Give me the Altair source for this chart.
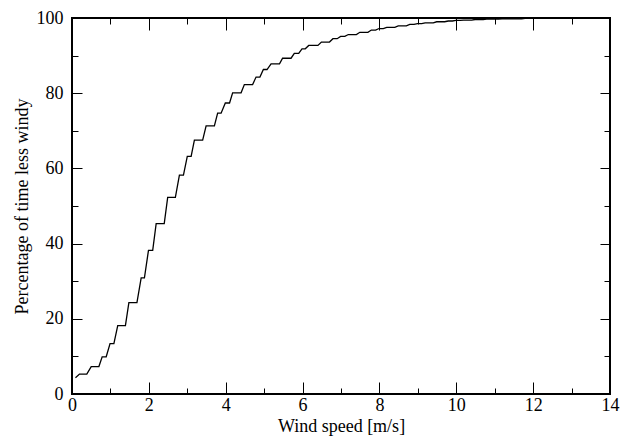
import altair as alt
import pandas as pd

# Digitized vertices of the cumulative wind-speed curve
speed = [0.09, 0.195, 0.385, 0.50, 0.70, 0.785, 0.89, 0.99, 1.09, 1.19,
         1.39, 1.48, 1.69, 1.80, 1.885, 1.99, 2.10, 2.19, 2.40, 2.49,
         2.69, 2.795, 2.90, 3.00, 3.10, 3.185, 3.40, 3.49, 3.705, 3.79,
         3.88, 3.99, 4.10, 4.18, 4.40, 4.485, 4.70, 4.79, 4.89, 4.98,
         5.075, 5.18, 5.40, 5.48, 5.70, 5.785, 5.90, 5.985, 6.07, 6.16,
         6.40, 6.49, 6.70, 6.79, 6.90, 6.99, 7.10, 7.19, 7.40, 7.49,
         7.70, 7.79, 7.90, 7.99, 8.10, 8.19, 8.40, 8.49, 8.70, 8.79,
         8.90, 8.99, 9.10, 9.19, 9.40, 9.49, 9.70, 9.79, 9.90, 9.99,
         10.10, 10.19, 10.40, 10.49, 10.70, 10.79, 11.10, 11.19, 11.70, 11.79,
         12.50]
percent = [4.3, 5.3, 5.3, 7.3, 7.3, 9.9, 9.9, 13.4, 13.4, 18.2,
           18.2, 24.3, 24.3, 30.9, 30.9, 38.2, 38.2, 45.3, 45.3, 52.3,
           52.3, 58.2, 58.2, 63.2, 63.2, 67.5, 67.5, 71.3, 71.3, 74.7,
           74.7, 77.4, 77.4, 80.1, 80.1, 82.3, 82.3, 84.3, 84.3, 86.3,
           86.3, 87.8, 87.8, 89.3, 89.3, 90.6, 90.6, 91.8, 91.8, 92.7,
           92.7, 93.6, 93.6, 94.5, 94.5, 95.1, 95.1, 95.6, 95.6, 96.2,
           96.2, 96.8, 96.8, 97.2, 97.2, 97.5, 97.5, 97.9, 97.9, 98.3,
           98.3, 98.5, 98.5, 98.7, 98.7, 99.0, 99.0, 99.2, 99.2, 99.35,
           99.35, 99.45, 99.45, 99.6, 99.6, 99.7, 99.7, 99.8, 99.8, 99.9,
           100.0]

x_major = [0, 2, 4, 6, 8, 10, 12, 14]
x_minor = [1, 3, 5, 7, 9, 11, 13]
y_major = [0, 20, 40, 60, 80, 100]
y_minor = [10, 30, 50, 70, 90]

df = pd.DataFrame({"speed": speed, "percent": percent})

FONT = "Liberation Serif"
FS = 18
xs = alt.Scale(domain=[0, 14], nice=False, zero=False)
ys = alt.Scale(domain=[0, 100], nice=False, zero=False)


def ax(orient, values, size, labels=False, title=None, pad=4, tpad=4):
    kw = dict(orient=orient, values=values, tickSize=size, offset=-size,
              domain=False, grid=False, labels=labels, ticks=True,
              tickColor="black", tickWidth=1, labelFlush=False,
              labelOverlap=False, labelBound=False,
              labelFont=FONT, labelFontSize=FS, labelColor="black",
              labelPadding=pad, titleFont=FONT, titleFontSize=FS,
              titleFontWeight="normal", titleColor="black",
              titlePadding=tpad)
    kw["title"] = title if title is not None else ""
    return alt.Axis(**kw)


def layer(xaxis, yaxis, visible):
    return alt.Chart(df).mark_line(
        color="black", strokeWidth=1.3, opacity=1 if visible else 0
    ).encode(
        x=alt.X("speed:Q", scale=xs, axis=xaxis),
        y=alt.Y("percent:Q", scale=ys, axis=yaxis),
    )


l1 = layer(ax("bottom", x_major, 12, labels=True, title="Wind speed [m/s]", pad=2, tpad=3),
           ax("left", y_major, 10, labels=True, title="Percentage of time less windy", pad=9, tpad=5),
           True)
l2 = layer(ax("bottom", x_minor, 6), ax("left", y_minor, 6), False)
l3 = layer(ax("top", x_major, 12), ax("right", y_major, 10), False)
l4 = layer(ax("top", x_minor, 6), ax("right", y_minor, 6), False)

chart = alt.layer(l1, l2, l3, l4).resolve_axis(
    x="independent", y="independent"
).properties(
    width=538, height=376,
    autosize=alt.AutoSizeParams(type="none"),
    padding={"left": 64, "top": 10, "right": 10, "bottom": 42},
).configure_view(
    stroke="black", strokeWidth=2
)

chart.save("out.html", embed_options={"renderer": "svg", "actions": False})
